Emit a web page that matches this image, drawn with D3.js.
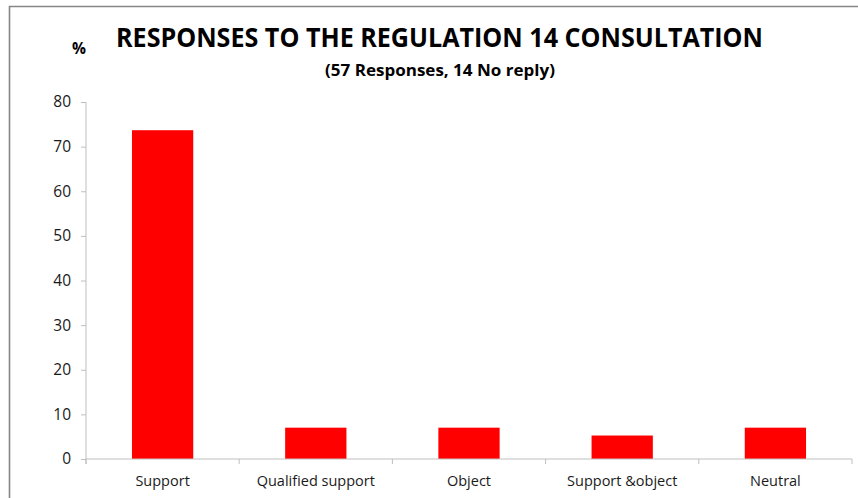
<!DOCTYPE html>
<html>
<head>
<meta charset="utf-8">
<script src="https://cdn.jsdelivr.net/npm/d3@7"></script>
<style>
  html, body { margin: 0; padding: 0; background: #fff; }
  svg { display: block; }
  text { font-family: "Open Sans", "Noto Sans", sans-serif; }
</style>
</head>
<body>
<svg id="chart" width="858" height="498"></svg>
<script>
const categories = ["Support", "Qualified support", "Object", "Support &object", "Neutral"];
const values = [73.68, 7.02, 7.02, 5.26, 7.02];
const yTicks = [0, 10, 20, 30, 40, 50, 60, 70, 80];
const titleText = "RESPONSES TO THE REGULATION 14 CONSULTATION";
const subtitleText = "(57 Responses, 14 No reply)";
const unitLabel = "%";

const svg = d3.select("#chart");
const W = 858, H = 498;
const margin = { left: 86, right: 6, top: 102, bottom: 39 };
const plotW = W - margin.left - margin.right;
const plotH = H - margin.top - margin.bottom;

// outer chart border (top + left visible)
svg.append("path")
  .attr("d", `M9.5,${H} L9.5,6.5 L${W},6.5`)
  .attr("fill", "none")
  .attr("stroke", "#868686")
  .attr("stroke-width", 1.6);

const x = d3.scaleBand().domain(categories).range([0, plotW]).paddingInner(0.6).paddingOuter(0.3);
const y = d3.scaleLinear().domain([0, 80]).range([plotH, 0]);

const g = svg.append("g").attr("transform", `translate(${margin.left},${margin.top})`);

// bars
g.selectAll("rect.bar").data(values).enter().append("rect")
  .attr("class", "bar")
  .attr("x", (d, i) => x(categories[i]))
  .attr("width", x.bandwidth())
  .attr("y", d => y(d))
  .attr("height", d => y(0) - y(d))
  .attr("fill", "#ff0000");

// y axis
const yAxis = d3.axisLeft(y).tickValues(yTicks).tickSize(5).tickPadding(10);
const yg = g.append("g").call(yAxis);
yg.attr("font-size", null).attr("font-family", null);
yg.select(".domain").attr("stroke", "#bfbfbf").attr("d", `M0,${plotH + 5} L0,0`);
yg.selectAll(".tick line").attr("stroke", "#bfbfbf");
yg.selectAll(".tick text").style("font-size", "15.5px").attr("fill", "#1a1a1a");

// x axis
const xg = g.append("g").attr("transform", `translate(0,${plotH})`);
xg.append("line").attr("x1", 0).attr("x2", plotW).attr("y1", 0).attr("y2", 0).attr("stroke", "#bfbfbf");
const step = plotW / categories.length;
const bounds = d3.range(categories.length + 1);
xg.selectAll("line.xt").data(bounds).enter().append("line")
  .attr("class", "xt")
  .attr("x1", d => d * step).attr("x2", d => d * step)
  .attr("y1", 0).attr("y2", 5)
  .attr("stroke", "#bfbfbf");
xg.selectAll("text.xl").data(categories).enter().append("text")
  .attr("class", "xl")
  .attr("x", d => x(d) + x.bandwidth() / 2)
  .attr("y", 27)
  .attr("text-anchor", "middle")
  .style("font-size", "14.5px")
  .attr("fill", "#1a1a1a")
  .text(d => d);

// titles
svg.append("text")
  .attr("x", 439.5).attr("y", 47)
  .attr("text-anchor", "middle")
  .style("font-size", "26.5px")
  .attr("font-weight", "bold")
  .attr("fill", "#000")
  .attr("textLength", 647)
  .attr("lengthAdjust", "spacingAndGlyphs")
  .text(titleText);

svg.append("text")
  .attr("x", 440).attr("y", 76)
  .attr("text-anchor", "middle")
  .style("font-size", "15.5px")
  .attr("font-weight", "bold")
  .attr("fill", "#000")
  .attr("textLength", 230)
  .attr("lengthAdjust", "spacingAndGlyphs")
  .text(subtitleText);

svg.append("text")
  .attr("x", 79).attr("y", 54)
  .attr("text-anchor", "middle")
  .style("font-size", "15.5px")
  .attr("font-weight", "bold")
  .attr("fill", "#000")
  .text(unitLabel);
</script>
</body>
</html>
